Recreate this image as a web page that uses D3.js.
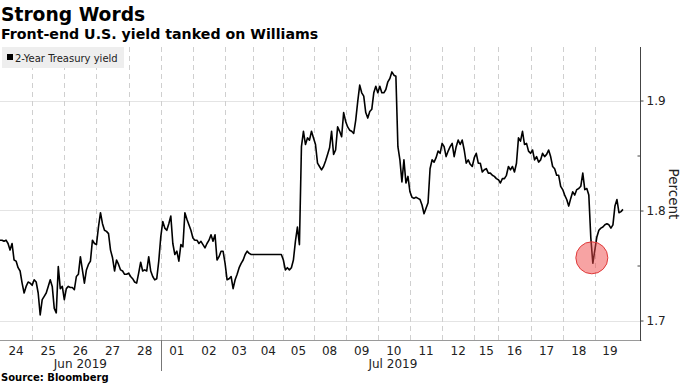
<!DOCTYPE html>
<html>
<head>
<meta charset="utf-8">
<script src="https://cdn.jsdelivr.net/npm/d3@7"></script>
<style>
  html, body { margin: 0; padding: 0; background: #fff; }
  svg { display: block; font-family: "DejaVu Sans", Verdana, sans-serif; }
</style>
</head>
<body>
<svg id="chart" width="683" height="384"></svg>
<script>
// ---------------- data ----------------
const title = "Strong Words";
const subtitle = "Front-end U.S. yield tanked on Williams";
const source = "Source: Bloomberg";
const seriesName = "2-Year Treasury yield";
const axisTitle = "Percent";

const dayLabels = ['24','25','26','27','28','01','02','03','04','05','08','09','10','11','12','15','16','17','18','19'];
const monthLabels = ['Jun 2019', 'Jul 2019'];
const monthDayCounts = [5, 15];

const yTicks = [1.7, 1.8, 1.9];
const yMinorTicks = [1.75, 1.85];

const jun24 = [1.773,1.773,1.772,1.773,1.770,1.764,1.770,1.755,1.754,1.748,1.745,1.734,1.725,1.731,1.735,1.734];
const jun25 = [1.732,1.737,1.735,1.725,1.705,1.719,1.722,1.725,1.731,1.737,1.731,1.711,1.707,1.749,1.729,1.731];
const jun26 = [1.719,1.729,1.731,1.730,1.730,1.728,1.740,1.742,1.758,1.746,1.734,1.746,1.751,1.754,1.773,1.770];
const jun27 = [1.769,1.785,1.798,1.788,1.782,1.781,1.779,1.764,1.757,1.745,1.755,1.751,1.746,1.745,1.742,1.742];
const jun28 = [1.743,1.740,1.738,1.735,1.734,1.743,1.753,1.745,1.746,1.745,1.758,1.745,1.740,1.737,1.738,1.754];
const jul01 = [1.776,1.790,1.784,1.782,1.788,1.795,1.770,1.760,1.763,1.754,1.769,1.767,1.798,1.792,1.787,1.782];
const jul02 = [1.775,1.773,1.773,1.770,1.772,1.769,1.766,1.770,1.773,1.778,1.772,1.778,1.755,1.758,1.763,1.763];
const jul03 = [1.752,1.737,1.738,1.740,1.729,1.737,1.742,1.748,1.752,1.755,1.760,1.763,1.761,1.760];
const jul04 = [1.760,1.760,1.760,1.760,1.760,1.760,1.760,1.760,1.760,1.760,1.760,1.760,1.760,1.760,1.760];
const jul05 = [1.755,1.746,1.748,1.746,1.748,1.755,1.772,1.785,1.769,1.858,1.872,1.860,1.866,1.864,1.872];
const jul08 = [1.866,1.860,1.843,1.840,1.837,1.840,1.845,1.851,1.857,1.872,1.851,1.855,1.876,1.872,1.867,1.889];
const jul09 = [1.881,1.876,1.873,1.872,1.870,1.882,1.899,1.914,1.907,1.904,1.889,1.884,1.890,1.892,1.907,1.913];
const jul10 = [1.907,1.913,1.907,1.907,1.910,1.917,1.920,1.926,1.923,1.922,1.858,1.846,1.826,1.846,1.825,1.831];
const jul11 = [1.817,1.812,1.811,1.812,1.811,1.810,1.805,1.797,1.802,1.807,1.838,1.846,1.844,1.848,1.854,1.852];
const jul12 = [1.861,1.858,1.849,1.854,1.858,1.861,1.849,1.858,1.864,1.860,1.864,1.855,1.843,1.846,1.842,1.840];
const jul15 = [1.848,1.852,1.843,1.843,1.835,1.837,1.838,1.834,1.834,1.832,1.831,1.829];
const jul16 = [1.828,1.825,1.829,1.829,1.832,1.840,1.837,1.840,1.835,1.843,1.866,1.863,1.872,1.860,1.861,1.854];
const jul17 = [1.852,1.855,1.846,1.849,1.844,1.846,1.852,1.849,1.851,1.855,1.849,1.840,1.838,1.832,1.832,1.822];
const jul18 = [1.819,1.814,1.810,1.804,1.811,1.817,1.814,1.819,1.820,1.822,1.834,1.819,1.820,1.814,1.775,1.752];
const jul19 = [1.764,1.776,1.782,1.784,1.785,1.787,1.788,1.787,1.784,1.787,1.804,1.810,1.798,1.799,1.801];

const yieldsByDay = [jun24, jun25, jun26, jun27, jun28, jul01, jul02, jul03, jul04, jul05,
                     jul08, jul09, jul10, jul11, jul12, jul15, jul16, jul17, jul18, jul19];

// highlighted low after Williams' remarks
const highlightDay = '18';
const highlightValue = 1.757;

// ---------------- build flat series ----------------
const points = [];
const dayStarts = [];
let idx = 0;
yieldsByDay.forEach((vals, d) => {
  dayStarts.push(idx);
  vals.forEach(v => { points.push({ i: idx, v: v }); idx++; });
});
const totalSlots = idx + 1;

// ---------------- layout ----------------
const W = 683, H = 384;
const plotLeft = 0, plotRight = 640.5, plotTop = 47, plotBottom = 340;

const svg = d3.select('#chart');
svg.append('rect').attr('width', W).attr('height', H).attr('fill', '#fff');

const x = d3.scaleLinear().domain([0, totalSlots]).range([0, 627]);
const y = d3.scaleLinear().domain([1.7, 1.9]).range([320.5, 100.5]);

// horizontal gridlines
svg.append('g').selectAll('line').data(yTicks).join('line')
  .attr('x1', plotLeft).attr('x2', plotRight)
  .attr('y1', d => Math.round(y(d)) + 0.5).attr('y2', d => Math.round(y(d)) + 0.5)
  .attr('stroke', '#e4e4e4').attr('stroke-width', 1);

// vertical dashed day separators
svg.append('g').selectAll('line').data(dayStarts.slice(1)).join('line')
  .attr('x1', d => Math.round(x(d)) + 0.5).attr('x2', d => Math.round(x(d)) + 0.5)
  .attr('y1', plotTop).attr('y2', plotBottom)
  .attr('stroke', '#cfcfcf').attr('stroke-width', 1).attr('stroke-dasharray', '5,4');

// bottom axis line
svg.append('line')
  .attr('x1', plotLeft).attr('x2', plotRight + 1)
  .attr('y1', plotBottom + 0.5).attr('y2', plotBottom + 0.5)
  .attr('stroke', '#9a9a9a');

// right axis
const yAxis = d3.axisRight(y).tickValues(yTicks).tickSize(3).tickPadding(3)
  .tickFormat(d3.format('.1f'));
const gy = svg.append('g').attr('transform', `translate(${plotRight},0)`).call(yAxis);
gy.select('.domain').remove();
gy.selectAll('.tick line').attr('stroke', '#444');
gy.selectAll('.tick text').attr('font-size', 12).attr('fill', '#222')
  .attr('font-family', '"DejaVu Sans", Verdana, sans-serif');
const yMinor = d3.axisLeft(y).tickValues(yMinorTicks).tickSize(3).tickFormat('');
const gym = svg.append('g').attr('transform', `translate(${plotRight},0)`).call(yMinor);
gym.select('.domain').remove();
gym.selectAll('.tick line').attr('stroke', '#444');
svg.append('line')
  .attr('x1', plotRight).attr('x2', plotRight)
  .attr('y1', plotTop).attr('y2', plotBottom + 1)
  .attr('stroke', '#444').attr('stroke-width', 1);

// axis title
svg.append('text')
  .attr('transform', `translate(669,194) rotate(90)`)
  .attr('text-anchor', 'middle')
  .attr('font-size', 13.5).attr('fill', '#222')
  .text(axisTitle);

// x day labels
const dayCenters = dayLabels.map((lab, k) => ({ lab, c: dayStarts[k] + yieldsByDay[k].length / 2 }));
svg.append('g').selectAll('text').data(dayCenters).join('text')
  .attr('x', d => x(d.c)).attr('y', 355)
  .attr('text-anchor', 'middle').attr('font-size', 12).attr('fill', '#222')
  .text(d => d.lab);

// month labels
let dAcc = 0;
const months = monthLabels.map((m, k) => {
  const s = dayStarts[dAcc];
  const lastDay = dAcc + monthDayCounts[k] - 1;
  const e = dayStarts[lastDay] + yieldsByDay[lastDay].length;
  dAcc += monthDayCounts[k];
  return { m, s, e };
});
svg.append('g').selectAll('text').data(months).join('text')
  .attr('x', d => x((d.s + d.e) / 2)).attr('y', 368)
  .attr('text-anchor', 'middle').attr('font-size', 12).attr('fill', '#222')
  .text(d => d.m);
// month separator
svg.append('g').selectAll('line').data(months.slice(1)).join('line')
  .attr('x1', d => Math.round(x(d.s)) + 0.5).attr('x2', d => Math.round(x(d.s)) + 0.5)
  .attr('y1', plotBottom).attr('y2', 371)
  .attr('stroke', '#777');

// highlight index
const hk = dayLabels.indexOf(highlightDay);
const hVals = yieldsByDay[hk];
const hIdx = dayStarts[hk] + hVals.indexOf(d3.min(hVals));

// line
const line = d3.line().x(d => x(d.i)).y(d => y(d.v));
svg.append('path').datum(points)
  .attr('d', line).attr('fill', 'none')
  .attr('stroke', '#000').attr('stroke-width', 1.6)
  .attr('stroke-linejoin', 'round');

svg.append('circle')
  .attr('cx', x(hIdx) - 1).attr('cy', y(highlightValue)).attr('r', 16)
  .attr('fill', '#f04848').attr('fill-opacity', 0.5)
  .attr('stroke', '#e03a3a').attr('stroke-width', 1);

// legend
const lg = svg.append('g');
lg.append('rect').attr('x', 2).attr('y', 47).attr('width', 122).attr('height', 21).attr('fill', '#eeeeee');
lg.append('rect').attr('x', 7).attr('y', 54).attr('width', 6).attr('height', 6).attr('fill', '#000');
lg.append('text').attr('x', 15).attr('y', 61.5).attr('font-size', 10).attr('fill', '#222').text(seriesName);

// titles
svg.append('text').attr('x', 1).attr('y', 21).attr('font-size', 18.7).attr('font-weight', 'bold')
  .attr('fill', '#000').text(title);
svg.append('text').attr('x', 1).attr('y', 39).attr('font-size', 14.2).attr('font-weight', 'bold')
  .attr('fill', '#000').text(subtitle);
svg.append('text').attr('x', 1).attr('y', 381).attr('font-size', 10).attr('font-weight', 'bold')
  .attr('fill', '#000').text(source);
</script>
</body>
</html>
